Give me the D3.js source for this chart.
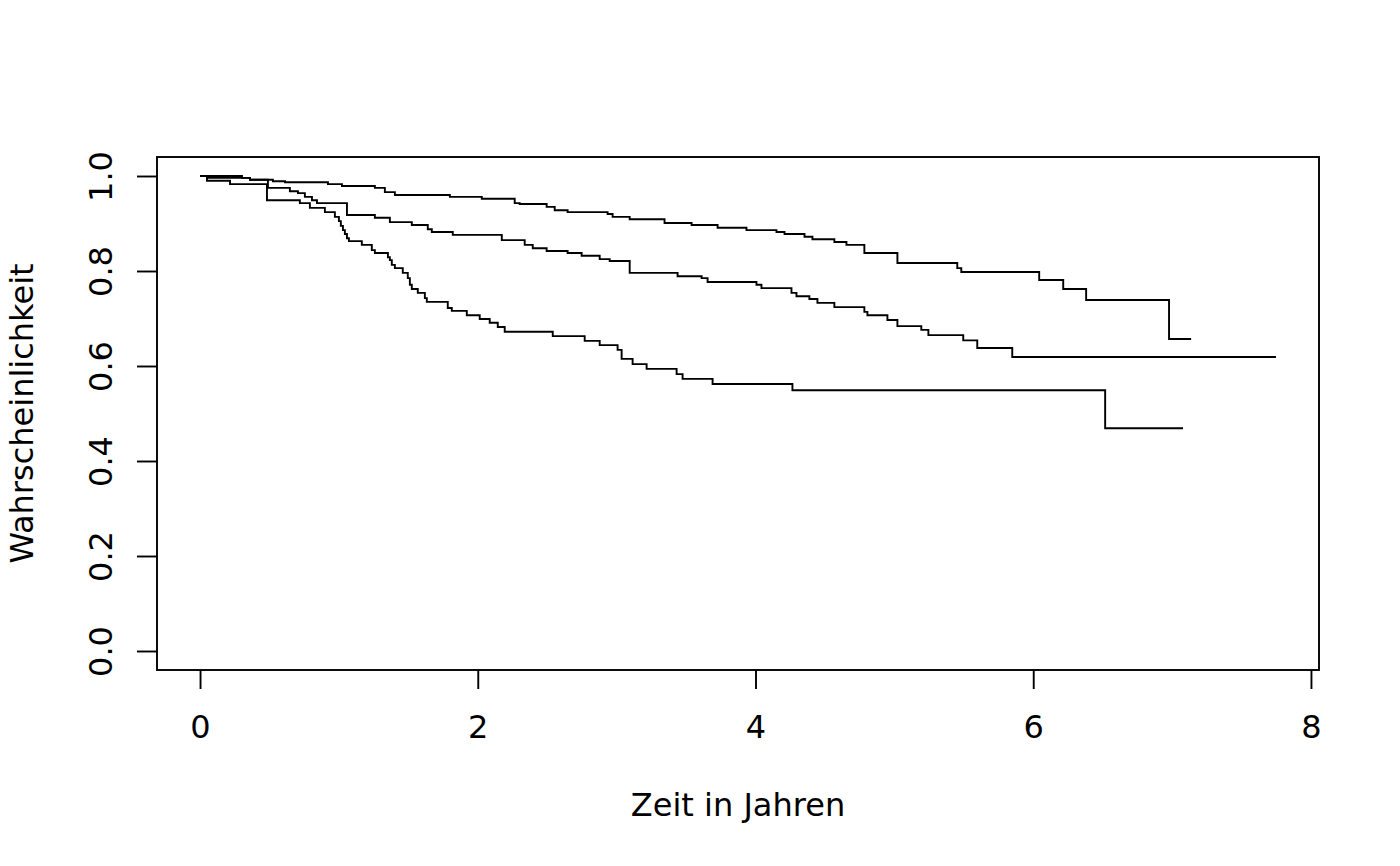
<!DOCTYPE html>
<html>
<head>
<meta charset="utf-8">
<script src="https://cdn.jsdelivr.net/npm/d3@7"></script>
<style>
body { margin: 0; background: #fff; }
text { font-family: "DejaVu Sans", sans-serif; }
</style>
</head>
<body>
<div id="chart-area"></div>
<script>
// Kaplan-Meier Kurven, drei Gruppen
var timesA = [0, 0.302, 0.360, 0.525, 0.612, 0.921, 1.022, 1.259, 1.331, 1.403, 1.799, 2.029, 2.266, 2.302, 2.496, 2.554, 2.647, 2.935, 2.971, 3.094, 3.345, 3.540, 3.727, 3.935, 4.151, 4.209, 4.353, 4.410, 4.568, 4.655, 4.784, 5.022, 5.453, 5.482, 6.043, 6.216, 6.381, 6.978, 7.137];
var survA  = [1, 0.996, 0.992, 0.989, 0.987, 0.983, 0.979, 0.975, 0.966, 0.960, 0.956, 0.952, 0.943, 0.941, 0.935, 0.928, 0.924, 0.920, 0.914, 0.909, 0.901, 0.897, 0.891, 0.886, 0.882, 0.878, 0.872, 0.867, 0.861, 0.855, 0.838, 0.817, 0.806, 0.798, 0.781, 0.762, 0.739, 0.657, 0.657];

var timesB = [0, 0.050, 0.360, 0.489, 0.647, 0.705, 0.755, 0.806, 0.842, 1.058, 1.259, 1.367, 1.525, 1.640, 1.669, 1.820, 2.173, 2.338, 2.396, 2.496, 2.647, 2.748, 2.878, 2.950, 3.094, 3.439, 3.612, 3.655, 4.007, 4.043, 4.259, 4.295, 4.388, 4.446, 4.568, 4.784, 4.806, 4.950, 5.022, 5.194, 5.245, 5.496, 5.597, 5.849, 7.748];
var survB  = [1, 0.996, 0.992, 0.975, 0.968, 0.964, 0.956, 0.949, 0.943, 0.918, 0.912, 0.903, 0.897, 0.888, 0.882, 0.876, 0.865, 0.855, 0.848, 0.842, 0.838, 0.832, 0.825, 0.821, 0.796, 0.789, 0.785, 0.777, 0.771, 0.764, 0.754, 0.747, 0.741, 0.733, 0.724, 0.714, 0.707, 0.697, 0.684, 0.676, 0.665, 0.654, 0.638, 0.619, 0.619];

var timesC = [0, 0.050, 0.216, 0.482, 0.719, 0.791, 0.899, 0.971, 1.000, 1.014, 1.029, 1.043, 1.058, 1.072, 1.165, 1.237, 1.259, 1.353, 1.367, 1.381, 1.403, 1.460, 1.496, 1.511, 1.525, 1.568, 1.619, 1.633, 1.784, 1.813, 1.921, 2.014, 2.086, 2.144, 2.194, 2.540, 2.770, 2.878, 3.007, 3.036, 3.115, 3.216, 3.432, 3.475, 3.691, 4.266, 6.518, 7.079];
var survC  = [1, 0.990, 0.983, 0.949, 0.943, 0.933, 0.924, 0.914, 0.905, 0.895, 0.886, 0.878, 0.869, 0.863, 0.855, 0.844, 0.838, 0.829, 0.823, 0.813, 0.806, 0.796, 0.785, 0.771, 0.762, 0.754, 0.743, 0.735, 0.722, 0.716, 0.707, 0.699, 0.691, 0.682, 0.672, 0.663, 0.653, 0.644, 0.634, 0.615, 0.604, 0.594, 0.583, 0.573, 0.562, 0.549, 0.469, 0.469];

var xTicks = [0, 2, 4, 6, 8];
var yTicks = [0, 0.2, 0.4, 0.6, 0.8, 1.0];

var margin = {
    left: 157,
    right: 81,
    top: 157,
    bottom: 196,
};

var width = 1400 - margin.left - margin.right,
height = 866 - margin.top - margin.bottom;

var svg = d3.select("#chart-area").append("svg")
    .attr("width", 1400)
    .attr("height", 866);

var g = svg.append("g").attr("transform", "translate(" + margin.left + ", " + margin.top + ")");

var series = [
    {t: timesA, s: survA},
    {t: timesB, s: survB},
    {t: timesC, s: survC},
];

// R-Stil: 4% Rand am Datenbereich
var xMax = d3.max(series, (d) => d3.max(d.t));
var xPad = xMax * 0.04;
var x = d3.scaleLinear().domain([-xPad, xMax + xPad]).range([0, width]);
var y = d3.scaleLinear().domain([-0.04, 1.04]).range([height, 0]);

var fontSize = 32;

// X Achse
var xAxisGroup = g.append("g")
    .attr("transform", "translate(0, " + height + ")")
    .call(d3.axisBottom(x).tickValues(xTicks).tickSize(19).tickSizeOuter(0).tickFormat(d3.format("d")));
xAxisGroup.select(".domain").remove();
xAxisGroup.selectAll("line").attr("stroke", "black").attr("stroke-width", 1.9);
xAxisGroup.selectAll("text")
    .attr("y", 68)
    .attr("dy", null)
    .attr("font-size", fontSize + "px")
    .attr("font-family", "DejaVu Sans")
    .style("fill", "black");

// Y Achse
var yAxisGroup = g.append("g")
    .call(d3.axisLeft(y).tickValues(yTicks).tickSize(20).tickSizeOuter(0).tickFormat(d3.format(".1f")));
yAxisGroup.select(".domain").remove();
yAxisGroup.selectAll("line").attr("stroke", "black").attr("stroke-width", 1.9);
yAxisGroup.selectAll("text")
    .attr("x", null)
    .attr("dy", null)
    .attr("text-anchor", "middle")
    .attr("transform", "translate(-45,0) rotate(-90)")
    .attr("font-size", fontSize + "px")
    .attr("font-family", "DejaVu Sans")
    .style("fill", "black");

// Rahmen
g.append("rect")
    .attr("x", 0)
    .attr("y", 0)
    .attr("width", width)
    .attr("height", height)
    .attr("fill", "none")
    .attr("stroke", "black")
    .attr("stroke-width", 1.9);

// Kurven
var line = d3.line()
    .x((d) => x(d[0]))
    .y((d) => y(d[1]))
    .curve(d3.curveStepAfter);

series.forEach((d) => {
    var pts = d.t.map((v, i) => [v, d.s[i]]);
    g.append("path")
        .attr("d", line(pts))
        .attr("fill", "none")
        .attr("stroke", "black")
        .attr("stroke-width", 1.9);
});

// X Label
svg.append("text")
    .attr("x", margin.left + width / 2)
    .attr("y", 816)
    .attr("font-size", fontSize + "px")
    .attr("text-anchor", "middle")
    .style("fill", "black")
    .text("Zeit in Jahren");

// Y Label
svg.append("text")
    .attr("transform", "translate(33, " + (margin.top + height / 2) + ") rotate(-90)")
    .attr("font-size", fontSize + "px")
    .attr("text-anchor", "middle")
    .style("fill", "black")
    .text("Wahrscheinlichkeit");
</script>
</body>
</html>
